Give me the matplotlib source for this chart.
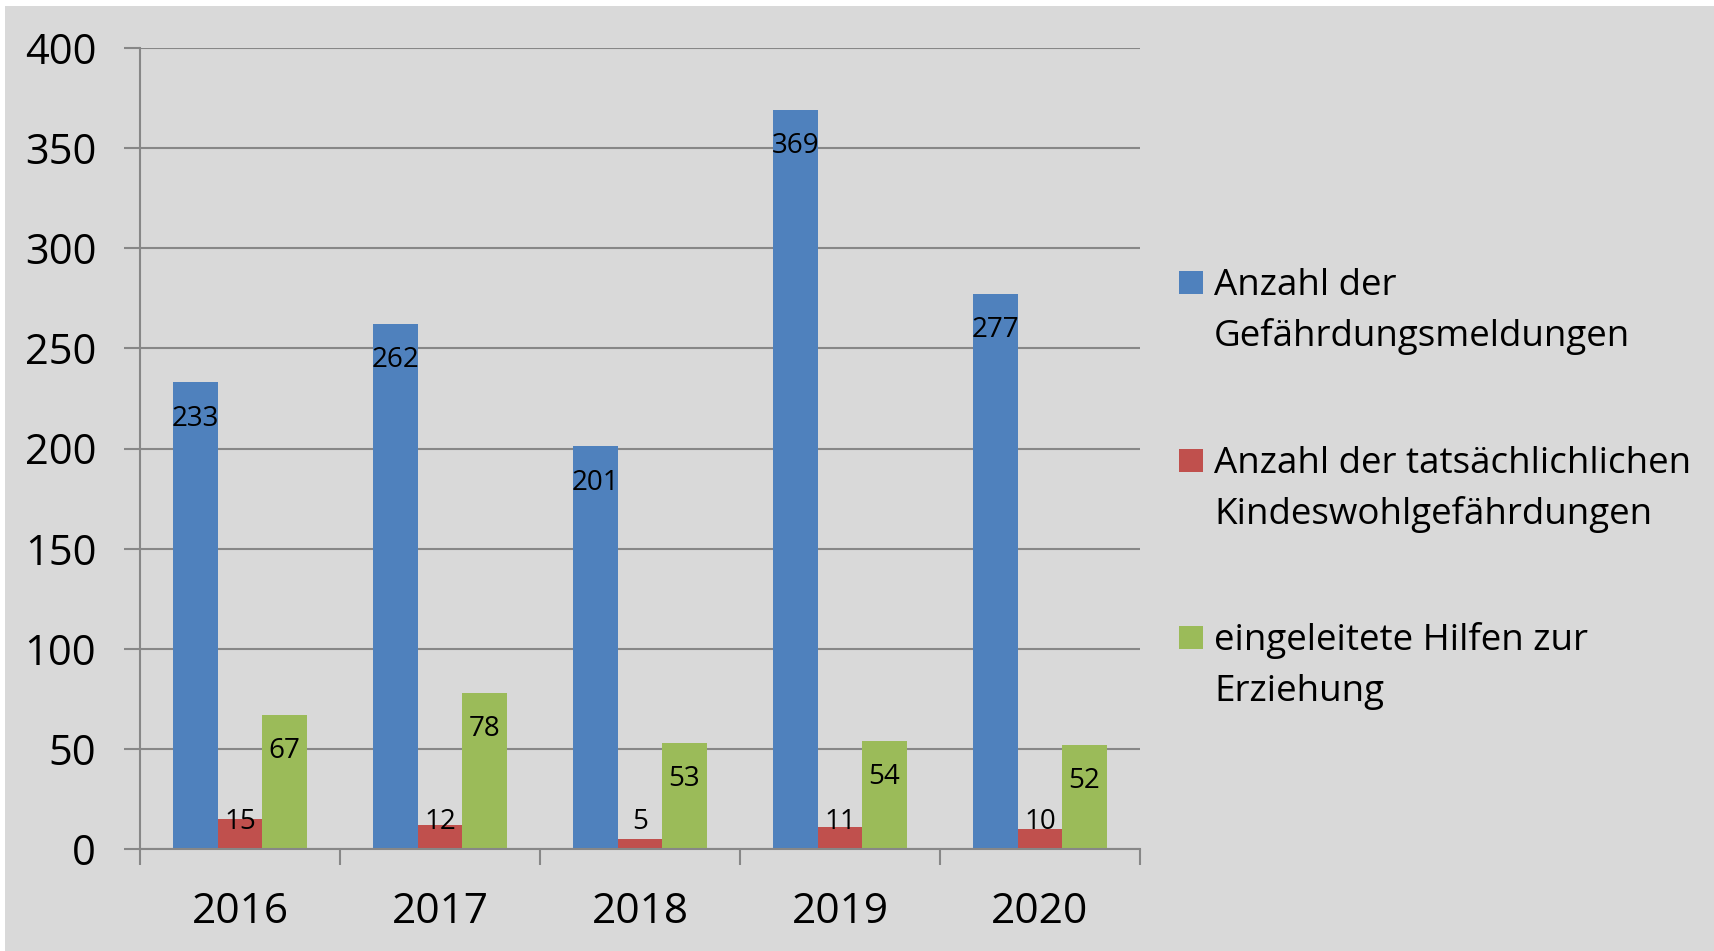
import matplotlib
matplotlib.use("Agg")
import matplotlib.pyplot as plt
from matplotlib.patches import Rectangle
import numpy as np

years = ["2016", "2017", "2018", "2019", "2020"]
meldungen = [233, 262, 201, 369, 277]
gefaehrdungen = [15, 12, 5, 11, 10]
hilfen = [67, 78, 53, 54, 52]
series_names = [
    ["Anzahl der", "Gefährdungsmeldungen"],
    ["Anzahl der tatsächlichlichen", "Kindeswohlgefährdungen"],
    ["eingeleitete Hilfen zur", "Erziehung"],
]
colors = ["#4f81bd", "#c0504d", "#9bbb59"]
yticks = [0, 50, 100, 150, 200, 250, 300, 350, 400]

FONT = "Open Sans"
W, H = 1715, 951
fig = plt.figure(figsize=(W / 100, H / 100), dpi=100)
fig.patch.set_facecolor("white")
fig.patches.append(Rectangle((5 / W, 0), 1 - 5 / W, 1 - 6 / H, transform=fig.transFigure,
                             facecolor="#d9d9d9", edgecolor="none", zorder=-10))

ax = fig.add_axes([140 / W, 1 - 849 / H, 1000 / W, 801 / H])
ax.set_facecolor("none")
grid_c = "#878787"
lw = 1.5

x = np.arange(len(years))
bw = 0.222
data = [meldungen, gefaehrdungen, hilfen]
for i, (vals, c) in enumerate(zip(data, colors)):
    xs = x + (i - 1) * bw
    ax.bar(xs, vals, width=bw, color=c, edgecolor="none", zorder=3)
    for xi, v in zip(xs, vals):
        if i == 1:
            ax.annotate(str(v), xy=(xi, 0), xytext=(0, 19.5), textcoords="offset points",
                        ha="center", va="center", fontsize=20, family=FONT, zorder=5)
        else:
            ax.annotate(str(v), xy=(xi, v), xytext=(0, -26), textcoords="offset points",
                        ha="center", va="center", fontsize=20, family=FONT, zorder=5)

ax.set_xlim(-0.5, len(years) - 0.5)
ax.set_ylim(0, 400)
ax.set_yticks(yticks)
ax.set_yticklabels([str(t) for t in yticks], family=FONT, fontsize=30)
ax.yaxis.grid(True, color=grid_c, linewidth=lw, zorder=1)
ax.tick_params(axis="y", length=11.5, width=lw, color=grid_c, pad=20)

ax.set_xticks(x)
ax.set_xticklabels(years, family=FONT, fontsize=30.5)
ax.set_xticks(np.arange(-0.5, len(years)), minor=True)
ax.tick_params(axis="x", which="major", length=0, pad=30)
ax.tick_params(axis="x", which="minor", length=11.5, width=lw, color=grid_c)

for s in ["top", "right"]:
    ax.spines[s].set_visible(False)
for s in ["left", "bottom"]:
    ax.spines[s].set_color(grid_c)
    ax.spines[s].set_linewidth(lw)
    ax.spines[s].set_zorder(4)

# legend
sq_tops = [271, 449, 626]
for top, c, lines in zip(sq_tops, colors, series_names):
    fig.patches.append(Rectangle((1179 / W, 1 - (top + 23) / H), 24 / W, 23 / H,
                                 transform=fig.transFigure, facecolor=c, edgecolor="none"))
    base1 = top + 24
    for k, line in enumerate(lines):
        fig.text(1214 / W, 1 - (base1 + 51 * k) / H, line, family=FONT, fontsize=26.5,
                 ha="left", va="baseline")

fig.savefig("out.png", dpi=100)
